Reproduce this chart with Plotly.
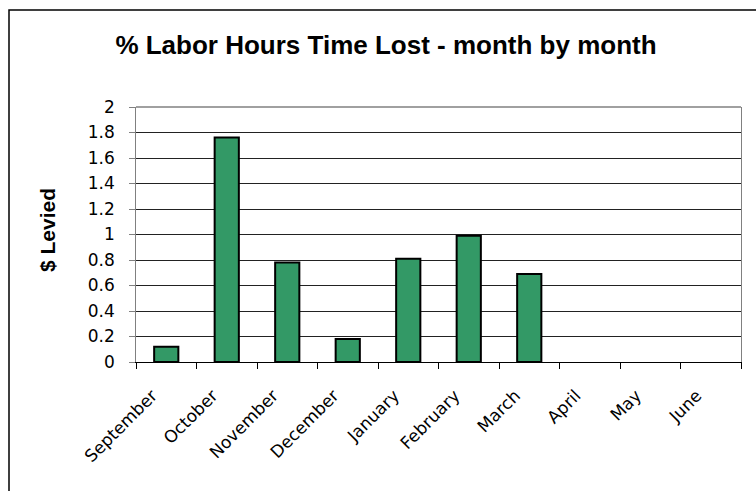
import plotly.graph_objects as go

months = ["September", "October", "November", "December", "January",
          "February", "March", "April", "May", "June"]
values = [0.12, 1.76, 0.78, 0.18, 0.81, 0.99, 0.69, 0, 0, 0]
y_ticks = [0, 0.2, 0.4, 0.6, 0.8, 1, 1.2, 1.4, 1.6, 1.8, 2]
title_text = "% Labor Hours Time Lost - month by month"
y_title = "$ Levied"

W, H = 756, 491
L, R, T, B = 136, 15, 107, 129
pw, ph = W - L - R, H - T - B

def px_x(p):
    return (p - L) / pw

def px_y(p):
    return (H - B - p) / ph

fig = go.Figure()
fig.add_trace(go.Bar(
    x=months, y=values,
    marker=dict(color="#339966",
                line=dict(color="black", width=[2 if v > 0 else 0 for v in values])),
    width=0.4,
))

tick_font = dict(family="DejaVu Sans", size=17, color="black")
pad = "<span style='color:rgba(0,0,0,0)'>0</span>"

fig.update_layout(
    width=W, height=H,
    margin=dict(l=L, r=R, t=T, b=B),
    paper_bgcolor="white", plot_bgcolor="white",
    showlegend=False,
    title=dict(text="<b>" + title_text + "</b>", x=px_x(386), xref="paper",
               xanchor="center", y=1 - 45 / H, yref="container", yanchor="middle",
               font=dict(family="Liberation Sans", size=26, color="black")),
    xaxis=dict(
        type="category", tickangle=-45, tickfont=tick_font,
        ticks="outside", ticklen=6, tickcolor="black", tickson="boundaries",
        ticklabelstandoff=16, ticklabelshift=-14,
        showline=True, linecolor="black", linewidth=1, mirror=False,
        showgrid=False, range=[-0.5, 9.5],
    ),
    yaxis=dict(
        range=[0, 2], tickvals=y_ticks,
        ticktext=[f"{v:g}" + pad for v in y_ticks],
        tickfont=tick_font, ticks="outside", ticklen=6, tickcolor="#808080",
        showline=True, linecolor="#808080", linewidth=1, mirror=True,
        showgrid=True, gridcolor="#222222", gridwidth=1, zeroline=False,
    ),
    shapes=[
        dict(type="line", xref="paper", yref="paper", x0=0, x1=1, y0=1, y1=1,
             line=dict(color="#808080", width=1.5)),
        dict(type="rect", xref="paper", yref="paper",
             x0=px_x(9), x1=px_x(900), y0=px_y(10), y1=px_y(700),
             line=dict(color="black", width=1.5), fillcolor="rgba(0,0,0,0)",
             layer="below"),
    ],
    annotations=[
        dict(text="<b>" + y_title + "</b>", x=px_x(47), y=px_y(230),
             xref="paper", yref="paper", showarrow=False, textangle=-90,
             xanchor="center", yanchor="middle",
             font=dict(family="Liberation Sans", size=21, color="black")),
    ],
)

fig.write_html("out.html", config={"displayModeBar": False},
               post_script="document.body.style.margin='0';")
